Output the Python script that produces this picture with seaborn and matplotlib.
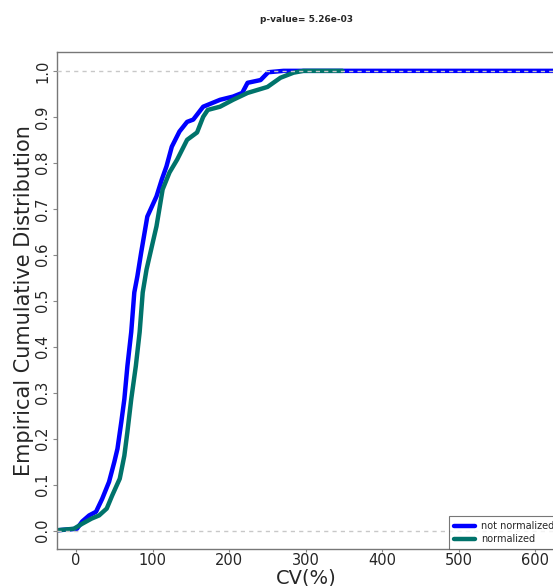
import matplotlib
matplotlib.use("Agg")
import matplotlib.pyplot as plt
import seaborn as sns
import pandas as pd
from matplotlib.lines import Line2D

title = "p-value= 5.26e-03"
series_names = ["not normalized", "normalized"]
colors = ["#0000ff", "#00736b"]

x_not_norm = [-30, 1, 8, 17, 26, 34, 43, 50, 54, 59, 63, 67, 72, 76, 80, 85, 93,
              105, 112, 118, 125, 135, 145, 153, 166, 188, 205, 217, 224, 241,
              251, 271, 700]
y_not_norm = [0, 0.004, 0.020, 0.033, 0.041, 0.069, 0.106, 0.150, 0.178, 0.236,
              0.286, 0.358, 0.432, 0.518, 0.553, 0.605, 0.683, 0.727, 0.764,
              0.792, 0.835, 0.868, 0.889, 0.894, 0.922, 0.937, 0.944, 0.952,
              0.974, 0.980, 0.997, 1.0, 1.0]

x_norm = [-30, -3, 8, 20, 30, 40, 47, 57, 63, 67, 72, 78, 83, 87, 92, 96, 105,
          113, 122, 132, 145, 158, 166, 172, 188, 205, 224, 250, 267, 284, 297, 348]
y_norm = [0, 0.004, 0.015, 0.026, 0.033, 0.048, 0.076, 0.113, 0.163, 0.215,
          0.286, 0.358, 0.432, 0.518, 0.568, 0.597, 0.662, 0.742, 0.779, 0.807,
          0.850, 0.866, 0.900, 0.915, 0.922, 0.937, 0.952, 0.965, 0.985, 0.996,
          1.0, 1.0]

df = pd.concat([
    pd.DataFrame({"cv": x_not_norm, "ecdf": y_not_norm, "series": series_names[0]}),
    pd.DataFrame({"cv": x_norm, "ecdf": y_norm, "series": series_names[1]}),
], ignore_index=True)

sns.set_style("white")
plt.rcParams["font.family"] = ["DejaVu Sans"]

fig = plt.figure(figsize=(5.53, 5.86), dpi=100)
ax = fig.add_axes([57/553, 37/586, (556-57)/553, (549-52)/586])

sns.lineplot(data=df, x="cv", y="ecdf", hue="series", hue_order=series_names,
             palette=colors, sort=False, estimator=None, lw=3.2,
             legend=False, ax=ax, solid_capstyle="round", solid_joinstyle="round")

for yv in (0.0, 1.0):
    ax.axhline(yv, color="#c8c8c8", ls="--", lw=1.0, dashes=(3, 3), zorder=5)

ax.set_xlim(-25, 627)
ax.set_ylim(-0.04, 1.041)
ax.set_xticks([0, 100, 200, 300, 400, 500, 600])
ax.set_yticks([0.0, 0.1, 0.2, 0.3, 0.4, 0.5, 0.6, 0.7, 0.8, 0.9, 1.0])
ax.set_yticklabels([f"{v:.1f}" for v in ax.get_yticks()], rotation=90, va="center")
ax.tick_params(axis="y", labelsize=10.5, length=3, color="#888888", direction="out",
               left=True, pad=2)
ax.tick_params(axis="x", labelsize=10.5, length=2, color="#888888", direction="out",
               bottom=True, pad=1)
ax.set_xlabel("CV(%)", fontsize=14, labelpad=0)
ax.set_ylabel("Empirical Cumulative Distribution", fontsize=15, labelpad=1)
for sp in ax.spines.values():
    sp.set_color("#777777")
    sp.set_linewidth(1.0)

handles = [Line2D([0], [0], color=c, lw=3.2) for c in colors]
leg = ax.legend(handles, series_names, loc="lower left",
                bbox_to_anchor=(449/553, 37/586), bbox_transform=fig.transFigure,
                borderaxespad=0, fontsize=7, frameon=True, fancybox=False,
                handlelength=2.2, handletextpad=0.6, borderpad=0.5, labelspacing=0.3)
leg.get_frame().set_edgecolor("#555555")
leg.get_frame().set_linewidth(0.8)
leg.set_zorder(10)

fig.text(306/553, 1 - 19/586, title, ha="center", va="center", fontsize=6.5,
         fontweight="bold")

fig.savefig("out.png", dpi=100)
